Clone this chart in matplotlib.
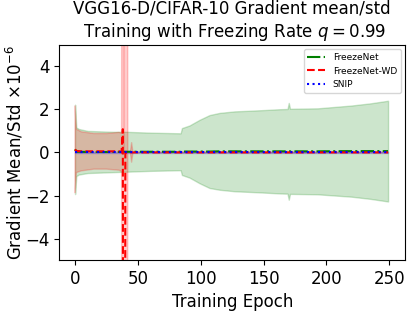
import matplotlib
matplotlib.use('Agg')
import matplotlib.pyplot as plt
import numpy as np

# values are in units of 1e-6
# FreezeNet (green)
fn_epochs = [0, 1, 3, 10, 20, 30, 40, 60, 84, 85, 91, 99, 107, 115, 127, 139, 150,
             163, 169, 170, 171, 193, 220, 235, 249]
fn_mean = [0.14, 0.03, 0.03, 0.02, 0.02, 0.02, 0.03, 0.03, 0.03, 0.04, 0.04, 0.04,
           0.04, 0.05, 0.05, 0.05, 0.05, 0.05, 0.05, 0.05, 0.05, 0.05, 0.06, 0.06, 0.06]
fn_std = [2.06, 1.12, 1.05, 0.97, 0.95, 0.93, 0.92, 0.88, 0.85, 1.08, 1.2, 1.46,
          1.68, 1.77, 1.84, 1.87, 1.9, 1.94, 1.95, 2.23, 1.96, 1.98, 2.1, 2.2, 2.32]

# FreezeNet-WD (red)
wd_epochs = [0, 1, 5, 15, 25, 35, 37, 38, 39, 40, 41, 42, 44, 45, 46, 100, 150, 200, 249]
wd_mean = [0.14, 0.07, 0.05, 0.05, 0.05, 0.05, 0.0, 1.07, -60.0, 0.0, 0.0, 0.0, 0.0,
           0.0, 0.0, 0.0, 0.0, 0.0, 0.0]
wd_std = [2.0, 1.0, 0.9, 0.82, 0.82, 0.87, 0.88, 60.0, 60.0, 60.0, 60.0, 0.02, 0.02,
          0.45, 0.02, 0.02, 0.02, 0.02, 0.02]

# SNIP (blue)
snip_epochs = [0, 50, 100, 150, 200, 249]
snip_mean = [0.0, 0.0, 0.0, 0.0, 0.0, 0.0]
snip_std = [0.02, 0.02, 0.02, 0.02, 0.02, 0.02]

fig = plt.figure(figsize=(4.15, 3.12), dpi=100)
ax = fig.add_axes([0.143, 0.167, 0.833, 0.689])

series = [
    (fn_epochs, fn_mean, fn_std, 'g', '-.', 'FreezeNet'),
    (wd_epochs, wd_mean, wd_std, 'r', '--', 'FreezeNet-WD'),
    (snip_epochs, snip_mean, snip_std, 'b', ':', 'SNIP'),
]
for ep, m, s, c, ls, lab in series:
    ep = np.array(ep)
    m = np.array(m)
    s = np.array(s)
    ax.plot(ep, m, color=c, linestyle=ls, label=lab)
    ax.fill_between(ep, m - s, m + s, color=c, alpha=0.2)

ax.set_xlim(-12.5, 262.5)
ax.set_ylim(-4.95, 4.95)
ax.set_xticks([0, 50, 100, 150, 200, 250])
ax.set_yticks([-4, -2, 0, 2, 4])
ax.tick_params(labelsize=12)
ax.set_xlabel('Training Epoch', fontsize=12)
ax.set_ylabel(r'Gradient Mean/Std $\times10^{-6}$', fontsize=12, labelpad=0)
ax.set_title('VGG16-D/CIFAR-10 Gradient mean/std\n Training with Freezing Rate $q = 0.99$',
             fontsize=12)
ax.legend(loc='upper right', fontsize=6.5)

fig.savefig('out.png', dpi=100)
